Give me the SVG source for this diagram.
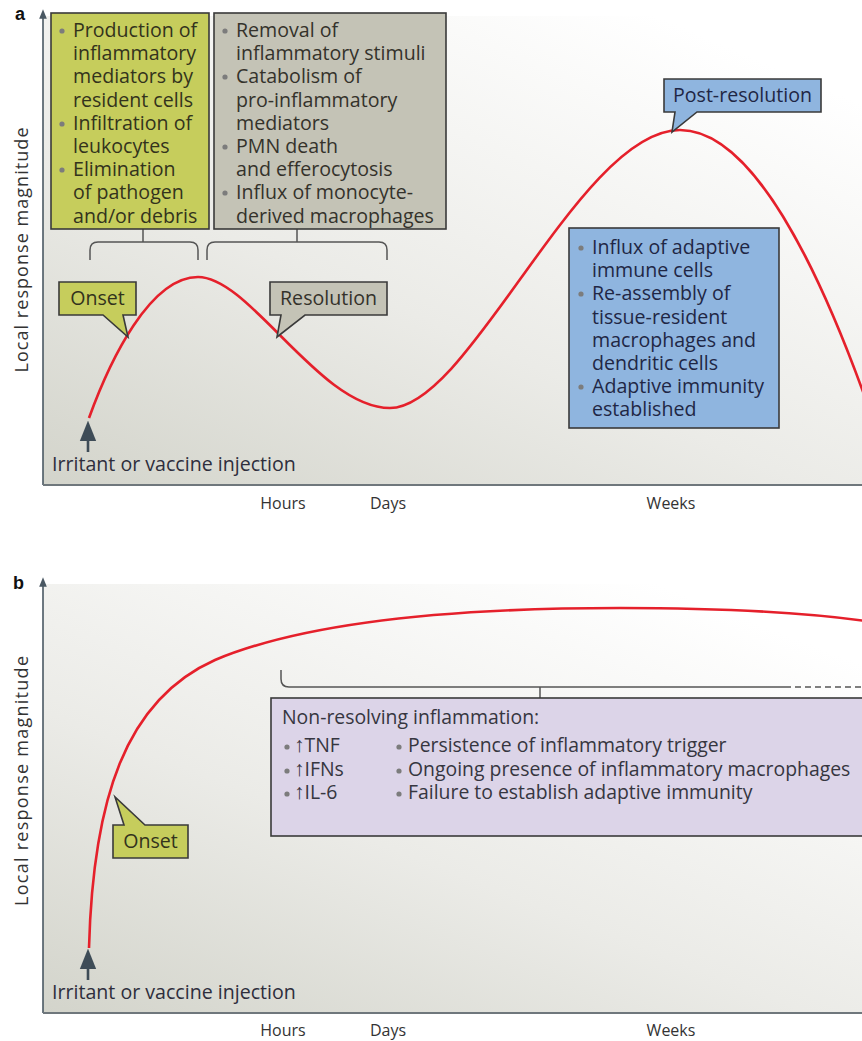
<svg xmlns="http://www.w3.org/2000/svg" width="862" height="1041" viewBox="0 0 862 1041">
<defs>
<linearGradient id="bg" x1="0" y1="1" x2="0.75" y2="0">
<stop offset="0" stop-color="#d3d4cb"/>
<stop offset="0.45" stop-color="#ebebe7"/>
<stop offset="1" stop-color="#ffffff"/>
</linearGradient>
<marker id="ah" viewBox="0 0 10 10" refX="5" refY="5" markerWidth="8" markerHeight="8" orient="auto">
<path d="M0,1 L10,5 L0,9 Z" fill="#3e4c57"/>
</marker>
<marker id="axh" viewBox="0 0 10 10" refX="5" refY="5" markerWidth="6" markerHeight="6" orient="auto">
<path d="M0,1 L10,5 L0,9 Z" fill="#4a5863"/>
</marker>
</defs>
<style>
text{font-family:"Open Sans","Liberation Sans",sans-serif;}
.t{font-size:19.6px;}
.ty{fill:#33331c;}
.tg{fill:#34322b;}
.tb{fill:#1f2745;}
.tp{fill:#363640;font-size:19.4px;}
.arr{font-family:"Liberation Sans","DejaVu Sans",sans-serif;font-size:21px;}
.lab{font-size:19.6px;fill:#2e2e3c;}
.ax{font-size:16px;fill:#333;}
.yl{font-size:18px;fill:#333;}
.pl{font-family:"Liberation Sans",sans-serif;font-weight:bold;font-size:18px;fill:#111;}
.box{stroke:#3a3a3a;stroke-width:1.6;}
.dot{fill:#7c7c7c;}
.br{fill:none;stroke:#555;stroke-width:1.5;}
.curve{fill:none;stroke:#e5202b;stroke-width:2.6;}
.axis{stroke:#4a5863;stroke-width:1.6;fill:none;}
.base{stroke:#6f777c;stroke-width:2.2;fill:none;}
</style>

<!-- Panel a frame -->
<g id="panel-a">
<rect x="43" y="16" width="819" height="469" fill="url(#bg)"/>
<line class="axis" x1="43" y1="485" x2="43" y2="14" marker-end="url(#axh)"/>
<line class="base" x1="43" y1="485" x2="862" y2="485"/>
<text class="pl" x="15" y="20">a</text>
<text class="yl" transform="translate(28,250) rotate(-90)" text-anchor="middle" textLength="245" lengthAdjust="spacing">Local response magnitude</text>
<text class="ax" x="283" y="509" text-anchor="middle">Hours</text>
<text class="ax" x="388" y="509" text-anchor="middle">Days</text>
<text class="ax" x="671" y="509" text-anchor="middle">Weeks</text>
<text class="lab" x="52" y="471">Irritant or vaccine injection</text>
</g>

<!-- Panel b frame -->
<g id="panel-b">
<rect x="43" y="584" width="819" height="429" fill="url(#bg)"/>
<line class="axis" x1="43" y1="1013" x2="43" y2="582" marker-end="url(#axh)"/>
<line class="base" x1="43" y1="1013" x2="862" y2="1013"/>
<text class="pl" x="13" y="589">b</text>
<text class="yl" transform="translate(28,781) rotate(-90)" text-anchor="middle" textLength="250" lengthAdjust="spacing">Local response magnitude</text>
<text class="ax" x="283" y="1036" text-anchor="middle">Hours</text>
<text class="ax" x="388" y="1036" text-anchor="middle">Days</text>
<text class="ax" x="671" y="1036" text-anchor="middle">Weeks</text>
<text class="lab" x="52" y="999">Irritant or vaccine injection</text>
</g>

<!-- Connectors -->
<g id="connectors">
<path class="curve" d="M89,418 C110,360 150,277 198,277 C250,277 320,408 390,408 C470,408 580,130 680,130 C760,130 830,300 866,400"/>
<path class="curve" d="M89,948 C93,800 125,700 215,660 C315,618 480,608 620,608 C720,608 800,612 866,621"/>
<line x1="88" y1="452" x2="88" y2="431" stroke="#3e4c57" stroke-width="2.6" marker-end="url(#ah)"/>
<line x1="88" y1="980" x2="88" y2="959" stroke="#3e4c57" stroke-width="2.6" marker-end="url(#ah)"/>
<path class="br" d="M90,260 V250 Q90,242 98,242 H190 Q198,242 198,250 V260"/>
<line class="br" x1="143" y1="229" x2="143" y2="242"/>
<path class="br" d="M207,260 V250 Q207,242 215,242 H379 Q387,242 387,250 V260"/>
<line class="br" x1="297" y1="229" x2="297" y2="242"/>
<path class="br" d="M281,670 V679 Q281,687 289,687 H785"/>
<line class="br" x1="785" y1="687" x2="862" y2="687" stroke-dasharray="6,4"/>
<line class="br" x1="540" y1="687" x2="540" y2="698"/>
</g>

<!-- Onset mediators box -->
<g id="onset-box">
<rect class="box" x="51" y="13" width="158" height="216" fill="#c6cd5c"/>
<circle class="dot" cx="62" cy="31" r="2.6"/>
<circle class="dot" cx="62" cy="124" r="2.6"/>
<circle class="dot" cx="62" cy="170" r="2.6"/>
<text class="t ty" x="73" y="37">Production of</text>
<text class="t ty" x="73" y="60.2">inflammatory</text>
<text class="t ty" x="73" y="83.4">mediators by</text>
<text class="t ty" x="73" y="106.6">resident cells</text>
<text class="t ty" x="73" y="129.8">Infiltration of</text>
<text class="t ty" x="73" y="153">leukocytes</text>
<text class="t ty" x="73" y="176.2">Elimination</text>
<text class="t ty" x="73" y="199.4">of pathogen</text>
<text class="t ty" x="73" y="222.6">and/or debris</text>
</g>

<!-- Resolution mechanisms box -->
<g id="resolution-box">
<rect class="box" x="214" y="13" width="232" height="216" fill="#c4c3b6"/>
<circle class="dot" cx="225" cy="31" r="2.6"/>
<circle class="dot" cx="225" cy="77" r="2.6"/>
<circle class="dot" cx="225" cy="147" r="2.6"/>
<circle class="dot" cx="225" cy="193" r="2.6"/>
<text class="t tg" x="236" y="37">Removal of</text>
<text class="t tg" x="236" y="60.2">inflammatory stimuli</text>
<text class="t tg" x="236" y="83.4">Catabolism of</text>
<text class="t tg" x="236" y="106.6">pro-inflammatory</text>
<text class="t tg" x="236" y="129.8">mediators</text>
<text class="t tg" x="236" y="153">PMN death</text>
<text class="t tg" x="236" y="176.2">and efferocytosis</text>
<text class="t tg" x="236" y="199.4">Influx of monocyte-</text>
<text class="t tg" x="236" y="222.6">derived macrophages</text>
</g>

<!-- Post-resolution box -->
<g id="post-resolution-box">
<rect class="box" x="569" y="228" width="210" height="200" fill="#8fb5df"/>
<circle class="dot" cx="581" cy="248" r="2.6"/>
<circle class="dot" cx="581" cy="294" r="2.6"/>
<circle class="dot" cx="581" cy="387" r="2.6"/>
<text class="t tb" x="592" y="254">Influx of adaptive</text>
<text class="t tb" x="592" y="277.2">immune cells</text>
<text class="t tb" x="592" y="300.4">Re-assembly of</text>
<text class="t tb" x="592" y="323.6">tissue-resident</text>
<text class="t tb" x="592" y="346.8">macrophages and</text>
<text class="t tb" x="592" y="370">dendritic cells</text>
<text class="t tb" x="592" y="393.2">Adaptive immunity</text>
<text class="t tb" x="592" y="416.4">established</text>
</g>

<!-- Callouts panel a -->
<g id="callout-onset-a">
<path class="box" d="M59,282 H136 V315 H123 L128,337 L103,315 H59 Z" fill="#c6cd5c"/>
<text class="t ty" x="97.5" y="305" text-anchor="middle">Onset</text>
</g>
<g id="callout-resolution">
<path class="box" d="M270,282 H387 V315 H305 L277,337 L281,315 H270 Z" fill="#c4c3b6"/>
<text class="t tg" x="328.5" y="305" text-anchor="middle">Resolution</text>
</g>
<g id="callout-post-resolution">
<path class="box" d="M664,79 H821 V112 H697 L672,132 L675,112 H664 Z" fill="#8fb5df"/>
<text class="t tb" x="742.5" y="102" text-anchor="middle">Post-resolution</text>
</g>

<!-- Panel b callout and box -->
<g id="callout-onset-b">
<path class="box" d="M113,825 H124 L115,797 L145,825 H188 V858 H113 Z" fill="#c6cd5c"/>
<text class="t ty" x="150.5" y="848" text-anchor="middle">Onset</text>
</g>
<g id="non-resolving-box">
<rect class="box" x="271" y="698" width="600" height="138" fill="#dcd4e8"/>
<text class="tp" x="282" y="724">Non-resolving inflammation:</text>
<circle class="dot" cx="287" cy="747" r="2.6"/>
<circle class="dot" cx="287" cy="771" r="2.6"/>
<circle class="dot" cx="287" cy="794" r="2.6"/>
<text class="tp" x="294" y="752"><tspan class="arr">↑</tspan>TNF</text>
<text class="tp" x="294" y="775.5"><tspan class="arr">↑</tspan>IFNs</text>
<text class="tp" x="294" y="799"><tspan class="arr">↑</tspan>IL-6</text>
<circle class="dot" cx="399" cy="747" r="2.6"/>
<circle class="dot" cx="399" cy="771" r="2.6"/>
<circle class="dot" cx="399" cy="794" r="2.6"/>
<text class="tp" x="408" y="752">Persistence of inflammatory trigger</text>
<text class="tp" x="408" y="775.5">Ongoing presence of inflammatory macrophages</text>
<text class="tp" x="408" y="799">Failure to establish adaptive immunity</text>
</g>
</svg>
